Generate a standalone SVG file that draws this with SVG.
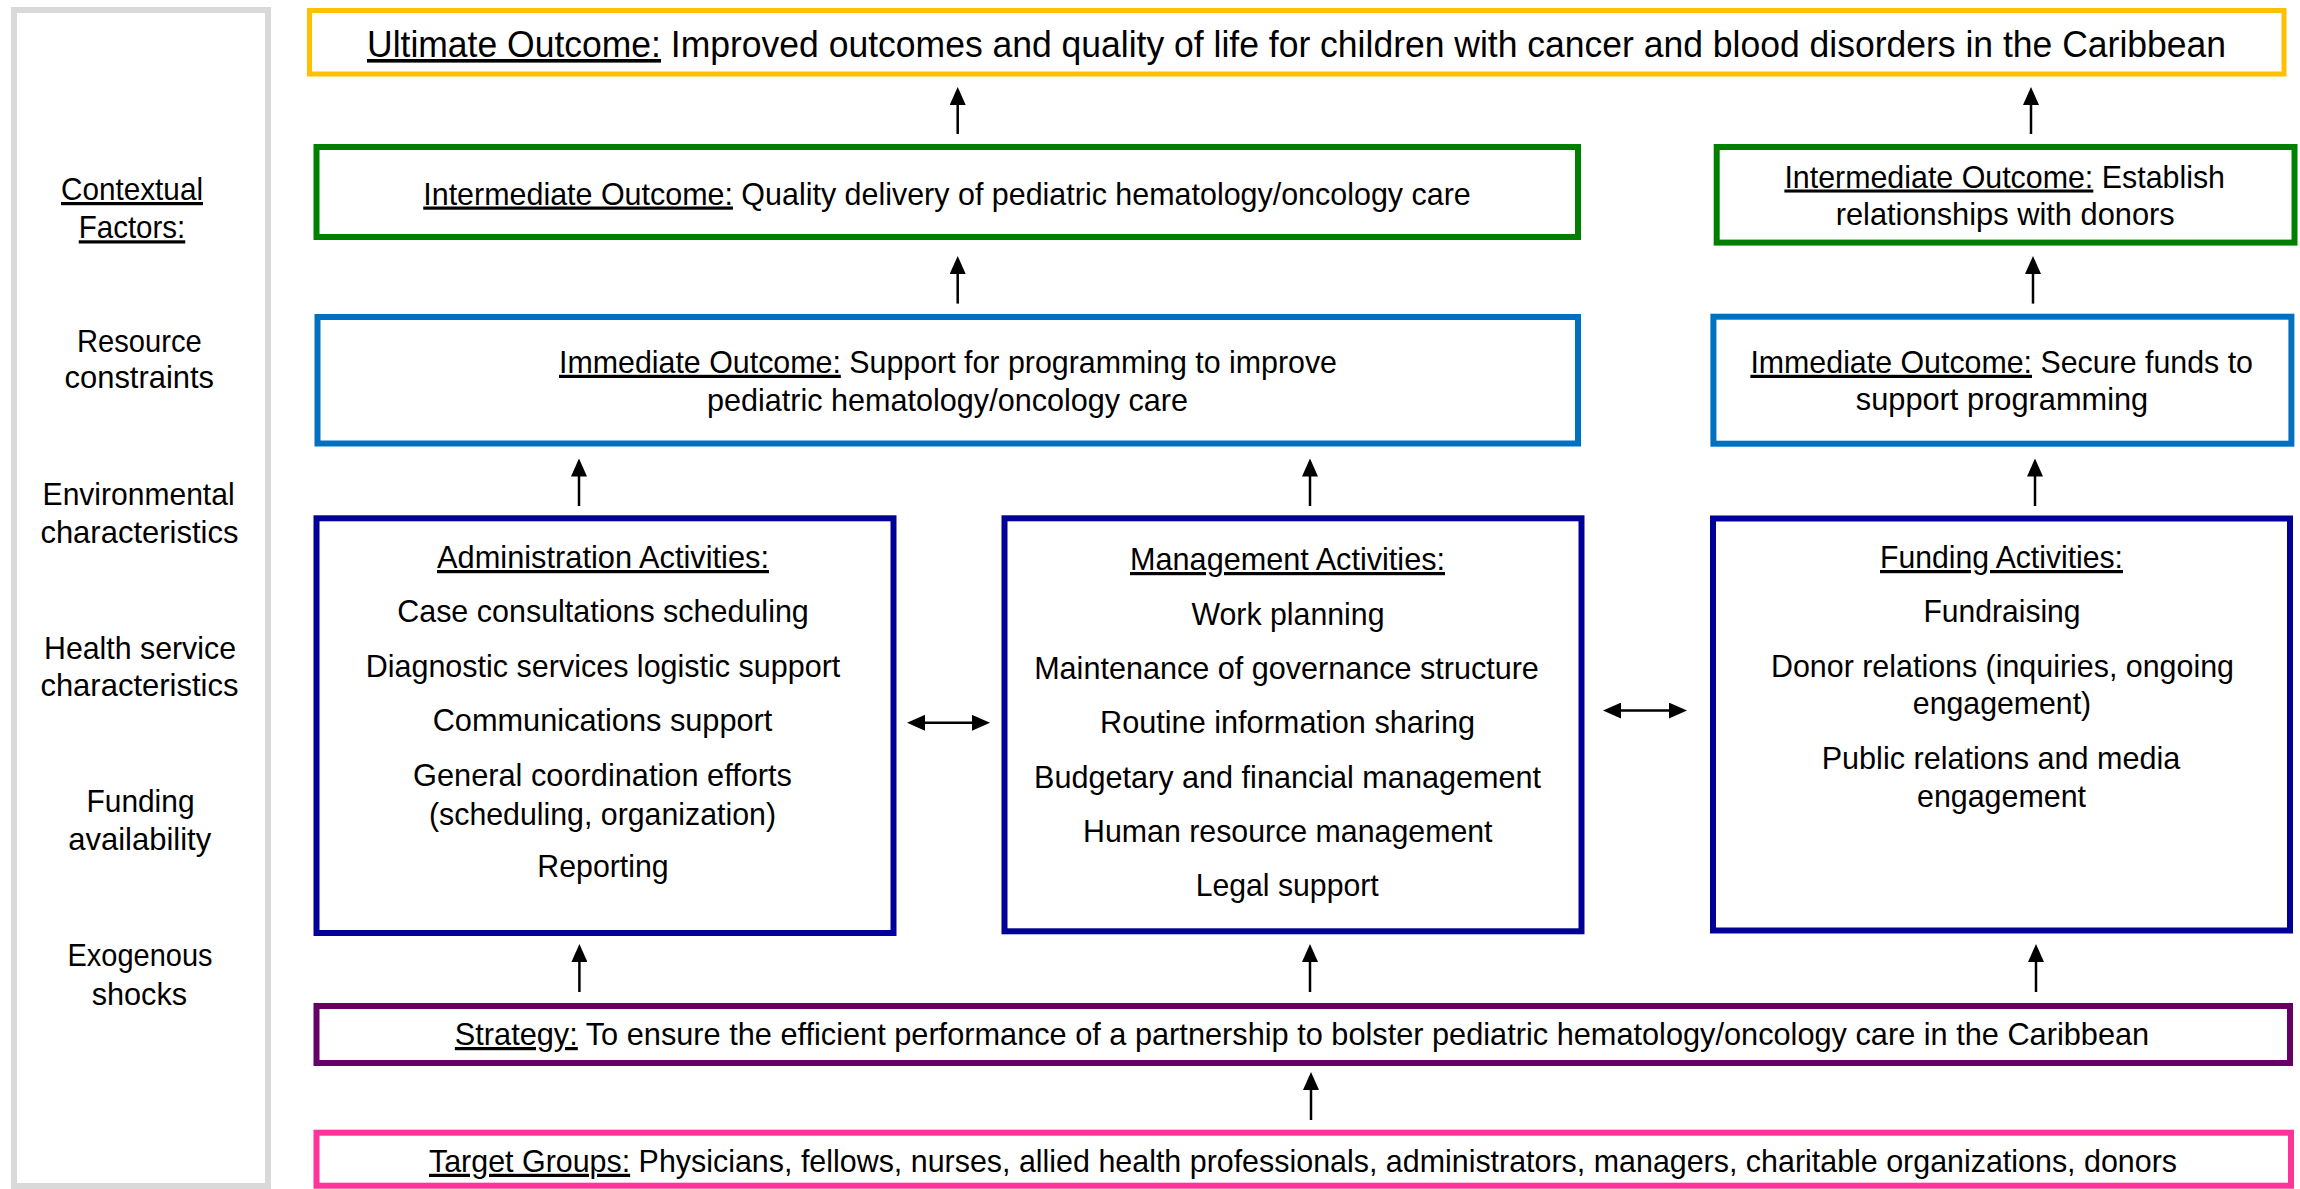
<svg xmlns="http://www.w3.org/2000/svg" width="2300" height="1189" viewBox="0 0 2300 1189">
<defs>
<style>
text{font-family:"Liberation Sans",Arial,sans-serif;font-size:32px;fill:#000;text-anchor:middle}
.u{text-decoration:underline}
.sm{font-size:30.5px}
.box{fill:#fff;stroke-width:6}
.yel{stroke:#FFC000;stroke-width:5}
.grn{stroke:#008000}
.blu{stroke:#0070C0}
.nav{stroke:#000099}
.pur{stroke:#660066}
.pnk{stroke:#FF3399}
.con line{stroke:#000;stroke-width:2.5;fill:none}
.up{marker-end:url(#ah)}
.dbl{marker-start:url(#ah);marker-end:url(#ah)}
</style>
<marker id="ah" viewBox="0 0 18 16" markerUnits="userSpaceOnUse" markerWidth="18" markerHeight="16" refX="8" refY="8" orient="auto-start-reverse">
<path d="M0,0 L18,8 L0,16 z" fill="#000"/>
</marker>
</defs>
<rect width="2300" height="1189" fill="#fff"/>

<g id="context-panel">
<rect x="14" y="10" width="254" height="1176" fill="#fff" stroke="#D9D9D9" stroke-width="6"/>
<text x="132" y="200" textLength="142" lengthAdjust="spacingAndGlyphs" class="u">Contextual</text>
<text x="132" y="238.3" textLength="106.5" lengthAdjust="spacingAndGlyphs" class="u">Factors:</text>
<text x="139.4" y="351.7" textLength="124.7" lengthAdjust="spacingAndGlyphs">Resource</text>
<text x="139.3" y="388" textLength="149.5" lengthAdjust="spacingAndGlyphs">constraints</text>
<text x="138.6" y="505" textLength="192" lengthAdjust="spacingAndGlyphs">Environmental</text>
<text x="139.4" y="543" textLength="198" lengthAdjust="spacingAndGlyphs">characteristics</text>
<text x="140" y="658.6" textLength="192" lengthAdjust="spacingAndGlyphs">Health service</text>
<text x="139.4" y="696" textLength="198" lengthAdjust="spacingAndGlyphs">characteristics</text>
<text x="140.5" y="812" textLength="108" lengthAdjust="spacingAndGlyphs">Funding</text>
<text x="139.7" y="850" textLength="143" lengthAdjust="spacingAndGlyphs">availability</text>
<text x="140" y="966" textLength="145" lengthAdjust="spacingAndGlyphs">Exogenous</text>
<text x="139.4" y="1004.5" textLength="95.4" lengthAdjust="spacingAndGlyphs">shocks</text>
</g>

<g id="ultimate-outcome">
<rect class="box yel" x="309.5" y="10.5" width="1974.5" height="63.5"/>
<text x="1296.5" y="57" style="font-size:36px" textLength="1859" lengthAdjust="spacingAndGlyphs"><tspan class="u">Ultimate Outcome:</tspan> Improved outcomes and quality of life for children with cancer and blood disorders in the Caribbean</text>
</g>

<g id="intermediate-outcome-care">
<rect class="box grn" x="316.5" y="147" width="1261.5" height="90"/>
<text x="947" y="204.5" textLength="1047.5" lengthAdjust="spacingAndGlyphs"><tspan class="u">Intermediate Outcome:</tspan> Quality delivery of pediatric hematology/oncology care</text>
</g>

<g id="intermediate-outcome-donors">
<rect class="box grn" x="1716.7" y="147" width="577.8" height="95.6"/>
<text class="sm" x="2004.7" y="187.5" textLength="440.6" lengthAdjust="spacingAndGlyphs"><tspan class="u">Intermediate Outcome:</tspan> Establish</text>
<text class="sm" x="2005.2" y="225" textLength="339" lengthAdjust="spacingAndGlyphs">relationships with donors</text>
</g>

<g id="immediate-outcome-support">
<rect class="box blu" x="317.5" y="317" width="1260.5" height="126.5"/>
<text x="948" y="372.8" textLength="778" lengthAdjust="spacingAndGlyphs"><tspan class="u">Immediate Outcome:</tspan> Support for programming to improve</text>
<text x="947.5" y="410.7" textLength="481" lengthAdjust="spacingAndGlyphs">pediatric hematology/oncology care</text>
</g>

<g id="immediate-outcome-funds">
<rect class="box blu" x="1713.4" y="316.7" width="578" height="127"/>
<text x="2001.7" y="372.8" textLength="502.6" lengthAdjust="spacingAndGlyphs"><tspan class="u">Immediate Outcome:</tspan> Secure funds to</text>
<text x="2002" y="409.8" textLength="292.4" lengthAdjust="spacingAndGlyphs">support programming</text>
</g>

<g id="administration-activities">
<rect class="box nav" x="316.5" y="518.3" width="577" height="414.7"/>
<text x="603" y="568" textLength="332" lengthAdjust="spacingAndGlyphs" class="u">Administration Activities:</text>
<text x="603" y="622.4" textLength="411.6" lengthAdjust="spacingAndGlyphs">Case consultations scheduling</text>
<text x="603" y="677" textLength="474.6" lengthAdjust="spacingAndGlyphs">Diagnostic services logistic support</text>
<text x="602.5" y="731" textLength="339.6" lengthAdjust="spacingAndGlyphs">Communications support</text>
<text x="602.5" y="786" textLength="379" lengthAdjust="spacingAndGlyphs">General coordination efforts</text>
<text x="602.5" y="824.5" textLength="347" lengthAdjust="spacingAndGlyphs">(scheduling, organization)</text>
<text x="603" y="877" textLength="131.3" lengthAdjust="spacingAndGlyphs">Reporting</text>
</g>

<g id="management-activities">
<rect class="box nav" x="1004.5" y="518.3" width="577" height="413"/>
<text x="1287.5" y="570" textLength="315" lengthAdjust="spacingAndGlyphs" class="u">Management Activities:</text>
<text x="1288" y="624.7" textLength="193" lengthAdjust="spacingAndGlyphs">Work planning</text>
<text x="1286.5" y="679" textLength="504.7" lengthAdjust="spacingAndGlyphs">Maintenance of governance structure</text>
<text x="1287.5" y="733" textLength="375" lengthAdjust="spacingAndGlyphs">Routine information sharing</text>
<text x="1287.5" y="787.5" textLength="507" lengthAdjust="spacingAndGlyphs">Budgetary and financial management</text>
<text x="1287.8" y="841.7" textLength="409.5" lengthAdjust="spacingAndGlyphs">Human resource management</text>
<text x="1287.2" y="896" textLength="183" lengthAdjust="spacingAndGlyphs">Legal support</text>
</g>

<g id="funding-activities">
<rect class="box nav" x="1713" y="518.5" width="577" height="412"/>
<text x="2001.5" y="568" textLength="243" lengthAdjust="spacingAndGlyphs" class="u">Funding Activities:</text>
<text x="2002" y="621.5" textLength="157" lengthAdjust="spacingAndGlyphs">Fundraising</text>
<text x="2002.5" y="676.7" textLength="463" lengthAdjust="spacingAndGlyphs">Donor relations (inquiries, ongoing</text>
<text x="2002" y="714.2" textLength="178.3" lengthAdjust="spacingAndGlyphs">engagement)</text>
<text x="2001" y="769.4" textLength="358.6" lengthAdjust="spacingAndGlyphs">Public relations and media</text>
<text x="2001.5" y="806.5" textLength="169" lengthAdjust="spacingAndGlyphs">engagement</text>
</g>

<g id="strategy">
<rect class="box pur" x="316.5" y="1006" width="1973.5" height="57"/>
<text x="1302" y="1045" textLength="1694.3" lengthAdjust="spacingAndGlyphs"><tspan class="u">Strategy:</tspan> To ensure the efficient performance of a partnership to bolster pediatric hematology/oncology care in the Caribbean</text>
</g>

<g id="target-groups">
<rect class="box pnk" x="316.5" y="1132.7" width="1974.5" height="53"/>
<text x="1303" y="1171.8" textLength="1748" lengthAdjust="spacingAndGlyphs"><tspan class="u">Target Groups:</tspan> Physicians, fellows, nurses, allied health professionals, administrators, managers, charitable organizations, donors</text>
</g>

<g id="connectors" class="con">
<line class="up" x1="957.7" y1="134" x2="957.7" y2="97"/>
<line class="up" x1="2031" y1="134" x2="2031" y2="97"/>
<line class="up" x1="957.7" y1="303.6" x2="957.7" y2="266"/>
<line class="up" x1="2033" y1="303.6" x2="2033" y2="266"/>
<line class="up" x1="579" y1="506" x2="579" y2="468.5"/>
<line class="up" x1="1310" y1="506" x2="1310" y2="468.5"/>
<line class="up" x1="2035" y1="506" x2="2035" y2="468.5"/>
<line class="up" x1="579.4" y1="992" x2="579.4" y2="954"/>
<line class="up" x1="1310" y1="992" x2="1310" y2="954"/>
<line class="up" x1="2036" y1="992" x2="2036" y2="954"/>
<line class="up" x1="1311" y1="1120" x2="1311" y2="1082"/>
<line class="dbl" x1="917" y1="722.8" x2="980" y2="722.8"/>
<line class="dbl" x1="1613" y1="710.6" x2="1677" y2="710.6"/>
</g>
</svg>
